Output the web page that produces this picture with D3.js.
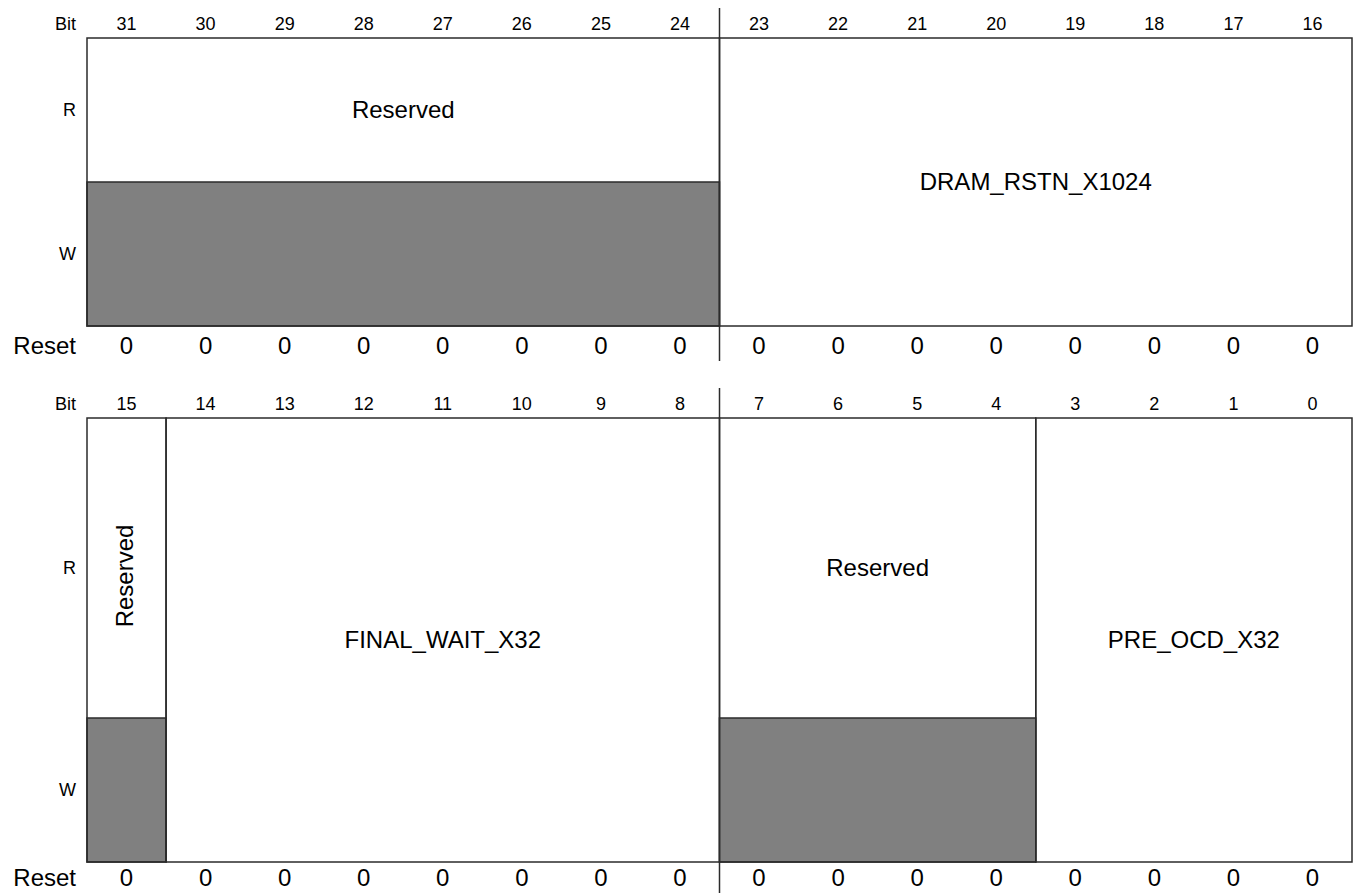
<!DOCTYPE html>
<html><head><meta charset="utf-8">
<script src="https://cdn.jsdelivr.net/npm/d3@7"></script>
<style>body{margin:0;background:#fff}svg{display:block}text{font-family:"Liberation Sans",Arial,Helvetica,sans-serif;fill:#000}</style>
</head><body>
<svg id="c" width="1354" height="893"></svg>
<script>
// ---- data ----
const topBits = [31,30,29,28,27,26,25,24,23,22,21,20,19,18,17,16];
const bottomBits = [15,14,13,12,11,10,9,8,7,6,5,4,3,2,1,0];
const topFieldNames = ["Reserved","DRAM_RSTN_X1024"];
const topFieldMsb = [31,23];
const topFieldLsb = [24,16];
const topFieldAccess = ["R","RW"];
const bottomFieldNames = ["Reserved","FINAL_WAIT_X32","Reserved","PRE_OCD_X32"];
const bottomFieldMsb = [15,14,7,3];
const bottomFieldLsb = [15,8,4,0];
const bottomFieldAccess = ["R","RW","R","RW"];
const bottomFieldVertical = [true,false,false,false];
const topReset = [0,0,0,0,0,0,0,0,0,0,0,0,0,0,0,0];
const bottomReset = [0,0,0,0,0,0,0,0,0,0,0,0,0,0,0,0];
const rowLabels = ["Bit","R","W","Reset"];

const svg = d3.select("#c");
const LINE = "#2b2b2b", GRAY = "#808080";
const SMALL = 18, BIG = 24, CAP = 0.35;

function drawRegister(cfg){
  const x = d3.scaleBand().domain(cfg.bits).range([87,1352]).paddingInner(0).paddingOuter(0);
  const g = svg.append("g");
  const top = cfg.top, rH = cfg.rH, wH = cfg.wH, bottom = top + rH + wH;
  const y = d3.scaleOrdinal().domain(["R","W"]).range([top + rH/2, top + rH + wH/2]);
  const bitBase = top - 8, resetBase = bottom + cfg.resetGap;
  // bit numbers
  g.selectAll("text.bit").data(cfg.bits).join("text")
    .attr("x", d => x(d) + x.bandwidth()/2).attr("y", bitBase)
    .attr("text-anchor","middle").attr("font-size",SMALL).text(d => d);
  g.append("text").attr("x",76).attr("y",bitBase).attr("text-anchor","end")
    .attr("font-size",SMALL).text(rowLabels[0]);
  g.append("text").attr("x",76).attr("y",y("R") + SMALL*CAP).attr("text-anchor","end")
    .attr("font-size",SMALL).text(rowLabels[1]);
  g.append("text").attr("x",76).attr("y",y("W") + SMALL*CAP).attr("text-anchor","end")
    .attr("font-size",SMALL).text(rowLabels[2]);
  g.append("text").attr("x",76).attr("y",resetBase).attr("text-anchor","end")
    .attr("font-size",BIG).text(rowLabels[3]);
  // reset values
  g.selectAll("text.rst").data(cfg.bits).join("text")
    .attr("x", d => x(d) + x.bandwidth()/2).attr("y", resetBase)
    .attr("text-anchor","middle").attr("font-size",BIG).text((d,i) => cfg.reset[i]);
  // fields
  cfg.names.forEach((name,i) => {
    const x0 = x(cfg.msb[i]), x1 = x(cfg.lsb[i]) + x.bandwidth();
    const acc = cfg.access[i];
    if (acc === "R") {
      g.append("rect").attr("x",x0).attr("y",top + rH).attr("width",x1-x0).attr("height",wH)
        .attr("fill",GRAY).attr("stroke",LINE).attr("stroke-width",1.5);
    }
    g.append("rect").attr("x",x0).attr("y",top).attr("width",x1-x0).attr("height",rH+wH)
      .attr("fill","none").attr("stroke",LINE).attr("stroke-width",1.5);
    const cx = (x0+x1)/2;
    const cy = acc === "R" ? y("R") : (top + bottom)/2;
    const t = g.append("text").attr("text-anchor","middle").attr("font-size",BIG).text(name);
    if (cfg.vertical && cfg.vertical[i]) t.attr("transform",`translate(${cx + BIG*CAP - 2},${cy + 8}) rotate(-90)`);
    else t.attr("x",cx).attr("y",cy + BIG*CAP);
  });
  // byte divider ticks beyond box
  const xd = x(cfg.bits[8]);
  g.append("line").attr("x1",xd).attr("x2",xd).attr("y1",cfg.divTop).attr("y2",top).attr("stroke",LINE).attr("stroke-width",1.5);
  g.append("line").attr("x1",xd).attr("x2",xd).attr("y1",bottom).attr("y2",cfg.divBottom).attr("stroke",LINE).attr("stroke-width",1.5);
}

drawRegister({bits:topBits, names:topFieldNames, msb:topFieldMsb, lsb:topFieldLsb, access:topFieldAccess,
  reset:topReset, top:38, rH:144, wH:144, resetGap:28, divTop:8, divBottom:361});
drawRegister({bits:bottomBits, names:bottomFieldNames, msb:bottomFieldMsb, lsb:bottomFieldLsb, access:bottomFieldAccess,
  vertical:bottomFieldVertical, reset:bottomReset, top:418, rH:300, wH:144, resetGap:24, divTop:388, divBottom:893});
</script>
</body></html>
